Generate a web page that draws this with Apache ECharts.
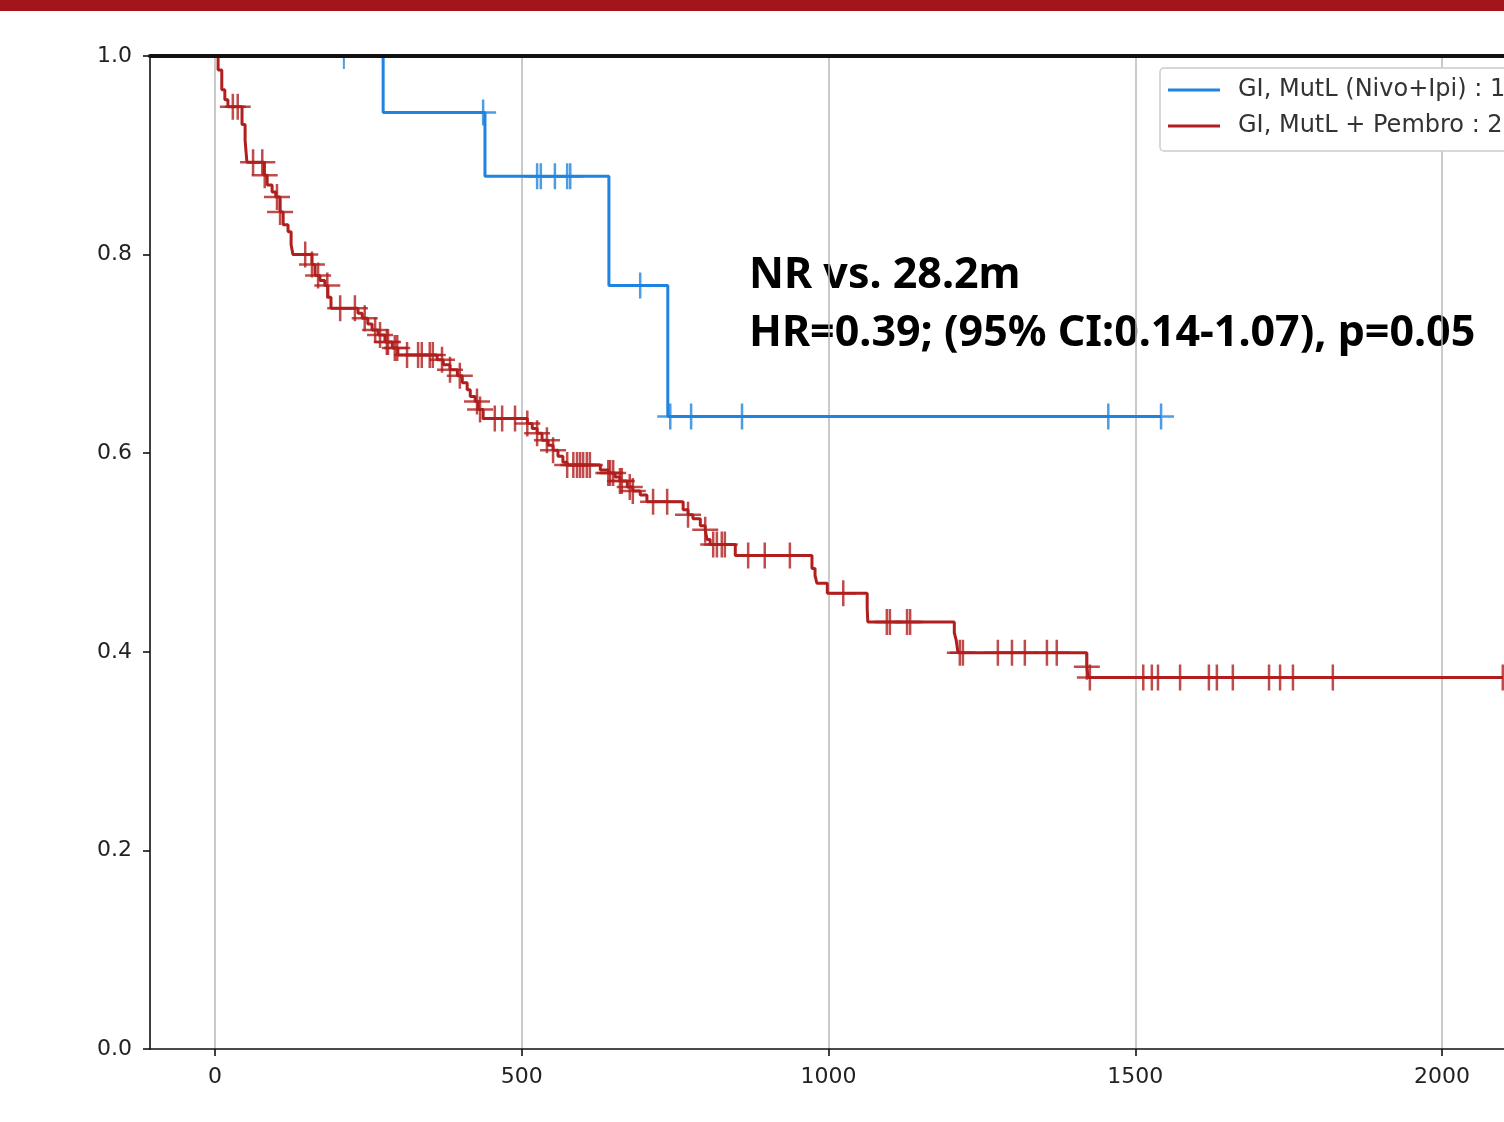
<!DOCTYPE html>
<html>
<head>
<meta charset="utf-8">
<title>GI MutL survival</title>
<script src="https://cdn.jsdelivr.net/npm/echarts@6/dist/echarts.min.js"></script>
<style>
    html, body { margin: 0; padding: 0; background: #fff; }
    #main { width: 1504px; height: 1122px; }
</style>
</head>
<body>
<div id="main"></div>
<script>
'use strict'

// x axis ticks (days)
var xTicks = [0, 500, 1000, 1500, 2000];

// GI, MutL (Nivo+Ipi): step times and survival after each step
var nivoTimes = [0, 274, 440, 642, 738, 1542];
var nivoSurv = [1.0, 0.943, 0.879, 0.769, 0.637, 0.637];
var nivoCensor = [210, 437, 525, 531, 554, 574, 579, 693, 742, 776, 859, 1456, 1542];

// GI, MutL + Pembro: step times and survival after each step
var pembroTimes = [0, 5, 11, 16, 21, 44, 49, 52, 80, 85, 93, 99, 106, 111, 119, 124, 127,
    158, 163, 171, 179, 184, 189, 233, 240, 249, 256, 266, 277, 289, 298,
    362, 372, 383, 395, 403, 411, 416, 424, 429, 437,
    509, 517, 525, 533, 543, 551, 559, 567, 574,
    628, 641, 652, 660, 672, 681, 693, 704,
    763, 771, 779, 791, 799, 802, 807, 848,
    973, 978, 981, 998, 1063, 1064, 1205, 1208, 1211, 1421, 1423, 2099];
var pembroSurv = [1.0, 0.986, 0.966, 0.956, 0.949, 0.931, 0.915, 0.893, 0.880, 0.870, 0.863, 0.858, 0.843, 0.830, 0.823, 0.810, 0.800,
    0.790, 0.779, 0.774, 0.769, 0.757, 0.746, 0.741, 0.736, 0.730, 0.724, 0.719, 0.712, 0.706, 0.699,
    0.694, 0.689, 0.684, 0.678, 0.671, 0.664, 0.657, 0.652, 0.644, 0.635,
    0.630, 0.625, 0.620, 0.613, 0.608, 0.603, 0.597, 0.591, 0.588,
    0.583, 0.580, 0.576, 0.572, 0.566, 0.562, 0.558, 0.551,
    0.543, 0.538, 0.534, 0.527, 0.523, 0.513, 0.508, 0.497,
    0.484, 0.477, 0.469, 0.459, 0.444, 0.430, 0.419, 0.412, 0.399, 0.385, 0.374, 0.374];
var pembroCensor = [29, 37, 62, 77, 81, 101, 106, 147, 158, 168, 183, 204, 228, 244, 261, 269, 280, 282, 293, 297,
    313, 331, 337, 350, 355, 370, 383, 399, 427, 432, 456, 468, 489, 509, 525, 541, 551,
    574, 584, 590, 595, 600, 606, 611, 641, 644, 649, 660, 663, 676, 681, 714, 737, 771,
    799, 812, 818, 826, 831, 869, 896, 937, 1024, 1095, 1100, 1128, 1133, 1214, 1219,
    1276, 1299, 1320, 1356, 1372, 1421, 1426, 1513, 1527, 1537, 1573, 1620, 1633, 1659,
    1718, 1736, 1757, 1822, 2099];

var nivoName = 'GI, MutL (Nivo+Ipi) : 1';
var pembroName = 'GI, MutL + Pembro : 2';
var blue = '#1f83e0';
var red = '#b01e1e';
var plus = 'path://M11.75,0 h2.5 v26 h-2.5 z M0,11.75 h26 v2.5 h-26 z';

function pairs(times, surv) {
    var out = [];
    for (var i = 0; i < times.length; i++) {
        out.push([times[i], surv[i]]);
    }
    return out;
}

// survival level of the curve at time t (for the censor marks)
function survAt(times, surv, t) {
    var s = surv[0];
    for (var i = 0; i < times.length; i++) {
        if (times[i] <= t) s = surv[i];
    }
    return s;
}

function censorPoints(cens, times, surv) {
    var out = [];
    for (var i = 0; i < cens.length; i++) {
        var s = survAt(times, surv, cens[i]);
        if (s >= 1) {
            // only the lower half shows under the top frame
            out.push({value: [cens[i], s], symbol: 'path://M0,0 h2 v13 h-2 z', symbolSize: [2, 13], symbolOffset: [0, 6.5]});
        } else {
            out.push([cens[i], s]);
        }
    }
    return out;
}

var myChart = echarts.init(document.getElementById('main'));

var option = {
    animation: false,
    backgroundColor: '#fff',
    grid: {left: 150, right: 0, top: 56, bottom: 73},
    legend: {
        data: [nivoName, pembroName],
        orient: 'vertical',
        left: 1160,
        top: 68,
        padding: [10, 30, 13, 8],
        itemGap: 12,
        itemWidth: 52,
        itemHeight: 3,
        icon: 'rect',
        borderColor: '#cccccc',
        borderWidth: 1.5,
        borderRadius: 4,
        backgroundColor: '#fff',
        textStyle: {fontFamily: 'DejaVu Sans', fontSize: 24, color: '#333', padding: [0, 0, 0, 13]}
    },
    xAxis: [{
        type: 'value',
        min: -106,
        max: 2101,
        position: 'bottom',
        axisLine: {show: true, onZero: false, lineStyle: {color: '#111', width: 1.6}},
        axisTick: {show: true, length: 7, customValues: xTicks, lineStyle: {color: '#111', width: 1.6}},
        axisLabel: {
            customValues: xTicks, fontFamily: 'DejaVu Sans', fontSize: 22, color: '#222', margin: 17,
            formatter: function (v) { return String(v); }
        },
        splitLine: {show: true, lineStyle: {color: '#b8b8b8', width: 1.5}}
    }, {
        // top frame, drawn over the curves
        type: 'value',
        min: -106,
        max: 2101,
        position: 'top',
        z: 50,
        axisLine: {show: true, onZero: false, lineStyle: {color: '#111', width: 4}},
        axisTick: {show: false},
        axisLabel: {show: false},
        splitLine: {show: false}
    }],
    yAxis: {
        type: 'value',
        min: 0,
        max: 1,
        interval: 0.2,
        axisLine: {show: true, onZero: false, lineStyle: {color: '#111', width: 1.6}},
        axisTick: {show: true, length: 7, lineStyle: {color: '#111', width: 1.6}},
        axisLabel: {
            fontFamily: 'DejaVu Sans', fontSize: 22, color: '#222', margin: 18,
            formatter: function (v) { return v.toFixed(1); }
        },
        splitLine: {show: false}
    },
    series: [{
        name: nivoName,
        type: 'line',
        step: 'end',
        showSymbol: false,
        z: 1,
        color: blue,
        lineStyle: {color: blue, width: 3},
        data: pairs(nivoTimes, nivoSurv)
    }, {
        name: pembroName,
        type: 'line',
        step: 'end',
        showSymbol: false,
        z: 1,
        color: red,
        lineStyle: {color: red, width: 3},
        data: pairs(pembroTimes, pembroSurv)
    }, {
        name: 'nivo censored',
        type: 'scatter',
        symbol: plus,
        symbolSize: 26,
        itemStyle: {color: blue},
        data: censorPoints(nivoCensor, nivoTimes, nivoSurv)
    }, {
        name: 'pembro censored',
        type: 'scatter',
        symbol: plus,
        symbolSize: 26,
        itemStyle: {color: red},
        data: censorPoints(pembroCensor, pembroTimes, pembroSurv)
    }],
    graphic: [{
        type: 'rect',
        left: 0,
        top: 0,
        shape: {width: 1504, height: 11},
        style: {fill: '#a3151b'}
    }, {
        type: 'text',
        x: 749,
        y: 276,
        style: {text: 'NR vs. 28.2m', font: 'bold 43px "Noto Sans"', fill: '#000', verticalAlign: 'middle'}
    }, {
        type: 'text',
        x: 749,
        y: 334,
        style: {text: 'HR=0.39; (95% CI:0.14-1.07), p=0.05', font: 'bold 43px "Noto Sans"', fill: '#000', verticalAlign: 'middle'}
    }]
};

myChart.setOption(option);
</script>
</body>
</html>
